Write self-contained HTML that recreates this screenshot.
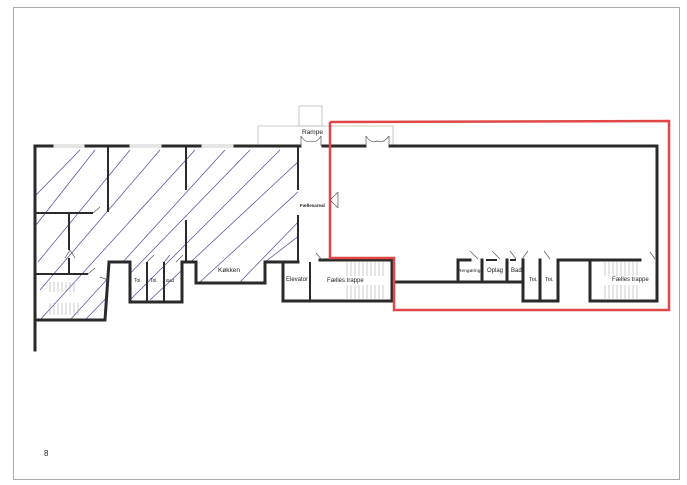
<!DOCTYPE html>
<html><head><meta charset="utf-8"><style>
html,body{margin:0;padding:0;background:#fff}
svg{display:block}
text{font-family:"Liberation Sans",sans-serif;fill:#222}
</style></head><body>
<svg width="687" height="485" viewBox="0 0 687 485" xmlns="http://www.w3.org/2000/svg">
<rect x="0" y="0" width="687" height="485" fill="#fff"/>
<rect x="13.5" y="7.5" width="666" height="472" fill="none" stroke="#aaa" stroke-width="1"/>
<g fill="none" stroke="#bbb" stroke-width="0.8">
<rect x="299" y="106" width="23" height="20"/>
<polyline points="258,146 258,126 393,126 393,146"/>
</g>
<g stroke="#bbb" stroke-width="0.8">
<line x1="52" y1="145" x2="86" y2="145"/><line x1="52" y1="147" x2="86" y2="147"/>
<line x1="128" y1="145" x2="163" y2="145"/><line x1="128" y1="147" x2="163" y2="147"/>
<line x1="200" y1="145" x2="235" y2="145"/><line x1="200" y1="147" x2="235" y2="147"/>
</g>
<defs>
<clipPath id="hc"><polygon points="35,147 298,147 298,262 265,262 265,283 196,283 196,262 182,262 182,302 130,302 130,262 109,262 105,320 35,320"/></clipPath>
</defs>
<g clip-path="url(#hc)" stroke="#4a4aa0" stroke-width="0.7" fill="none">
<line x1="36" y1="195" x2="80" y2="150"/>
<line x1="36" y1="225" x2="95" y2="150"/>
<line x1="38" y1="262" x2="130" y2="150"/>
<line x1="40" y1="290" x2="160" y2="150"/>
<line x1="40" y1="320" x2="195" y2="150"/>
<line x1="70" y1="320" x2="225" y2="150"/>
<line x1="85" y1="320" x2="250" y2="150"/>
<line x1="130" y1="300" x2="280" y2="150"/>
<line x1="150" y1="300" x2="300" y2="160"/>
<line x1="200" y1="282" x2="300" y2="190"/>
<line x1="240" y1="282" x2="300" y2="220"/>
<line x1="265" y1="262" x2="300" y2="235"/>
</g>
<g stroke="#2a2a2a" stroke-width="3" fill="none" stroke-linecap="square">
<line x1="35" y1="146" x2="52" y2="146"/>
<line x1="86" y1="146" x2="128" y2="146"/>
<line x1="163" y1="146" x2="200" y2="146"/>
<line x1="235" y1="146" x2="300" y2="146"/>
<line x1="323" y1="146" x2="365" y2="146"/>
<line x1="390" y1="146" x2="657" y2="146"/>
<line x1="657" y1="146" x2="657" y2="301"/>
<line x1="35" y1="146" x2="35" y2="350"/>
<polyline points="35,320 105,320 109,262 130,262 130,302 182,302 182,262 196,262 196,283 265,283 265,262 298,262"/>
<polyline points="283,262 283,301 392,301 392,260 320,260"/>
<polyline points="392,282 523,282 523,301 558,301 558,260 590,260 590,301 657,301"/>
<polyline points="458,282 458,260 470,260"/>
<line x1="482" y1="282" x2="482" y2="260"/>
<line x1="507" y1="282" x2="507" y2="260"/>
<line x1="523" y1="282" x2="523" y2="260"/>
<line x1="540" y1="301" x2="540" y2="260"/>
<line x1="590" y1="260" x2="640" y2="260"/>
</g>
<g stroke="#2a2a2a" stroke-width="2" fill="none">
<line x1="108" y1="146" x2="108" y2="212"/>
<line x1="35" y1="213" x2="93" y2="213"/>
<line x1="69" y1="213" x2="69" y2="250"/>
<line x1="69" y1="258" x2="69" y2="275"/>
<line x1="35" y1="274" x2="88" y2="274"/>
<line x1="186" y1="146" x2="186" y2="190"/>
<line x1="186" y1="220" x2="186" y2="262"/>
<line x1="298" y1="146" x2="298" y2="190"/>
<line x1="298" y1="215" x2="298" y2="262"/>
<line x1="147" y1="262" x2="147" y2="302"/>
<line x1="164" y1="262" x2="164" y2="302"/>
<line x1="310" y1="262" x2="310" y2="301"/>
<line x1="486" y1="260" x2="497" y2="260"/>
<line x1="510" y1="260" x2="516" y2="260"/>
</g>
<g stroke="#555" stroke-width="0.7" fill="none">
<path d="M301,146 V136 M321,146 V136 M301,136 Q306,144 311,141 Q316,144 321,136"/>
<path d="M366,146 V136 M389,146 V136 M366,136 Q371,144 377,141 Q383,144 389,136"/>
<path d="M330,200 L338,192 M330,200 L338,208 M338,192 V208"/>
<path d="M316,253 L322,260 M470,251 L478,259 M492,251 L500,259 M510,251 L516,259 M522,259 L528,251 M544,251 L550,259 M650,252 L655,259"/>
<path d="M147,262 L154,255 M164,262 L170,255 M176,262 L183,255 M70,250 L65,258 M70,250 L75,258 M93,213 L100,207 M100,277 L108,280 M88,274 L95,268"/>
</g>
<g stroke="#999" stroke-width="0.5">
<path d="M347,262 V276 M351,262 V276 M355,262 V276 M359,262 V276 M363,262 V276 M367,262 V276 M371,262 V276 M375,262 V276 M379,262 V276 M383,262 V276"/>
<path d="M347,285 V300 M351,285 V300 M355,285 V300 M359,285 V300 M363,285 V300 M367,285 V300 M371,285 V300 M375,285 V300 M379,285 V300 M383,285 V300"/>
<path d="M605,262 V276 M609,262 V276 M613,262 V276 M617,262 V276 M621,262 V276 M625,262 V276 M629,262 V276 M633,262 V276 M637,262 V276"/>
<path d="M605,285 V300 M609,285 V300 M613,285 V300 M617,285 V300 M621,285 V300 M625,285 V300 M629,285 V300 M633,285 V300 M637,285 V300"/>
<path d="M50,282 V292 M54,282 V292 M58,282 V292 M62,282 V292 M66,282 V292 M70,282 V292 M74,282 V292"/>
<path d="M50,303 V315 M54,303 V315 M58,303 V315 M62,303 V315 M66,303 V315 M70,303 V315 M74,303 V315 M78,303 V315"/>
</g>
<polyline points="330,122 669,121 669,310 394,310 394,258 330,258 330,122" fill="none" stroke="#e04848" stroke-width="2.5"/>
<g font-size="6.5">
<text x="302" y="134">Rampe</text>
<text x="300" y="207" font-size="4.5" font-weight="bold">Fællesareal</text>
<text x="218" y="272">Køkken</text>
<text x="134" y="282" font-size="5">Toi.</text>
<text x="150" y="282" font-size="5">Toi.</text>
<text x="166" y="282" font-size="4.5">Bad</text>
<text x="286" y="281" font-size="6">Elevator</text>
<text x="327" y="282" font-size="6">Fælles trappe</text>
<text x="458" y="272" font-size="4.8">Rengøring</text>
<text x="487" y="272" font-size="6">Oplag</text>
<text x="511" y="272" font-size="6">Bad</text>
<text x="529" y="281" font-size="5.5">Toi.</text>
<text x="545" y="281" font-size="5.5">Toi.</text>
<text x="612" y="281" font-size="6">Fælles trappe</text>
<text x="44" y="456" font-size="8">8</text>
</g>
</svg>
</body></html>
